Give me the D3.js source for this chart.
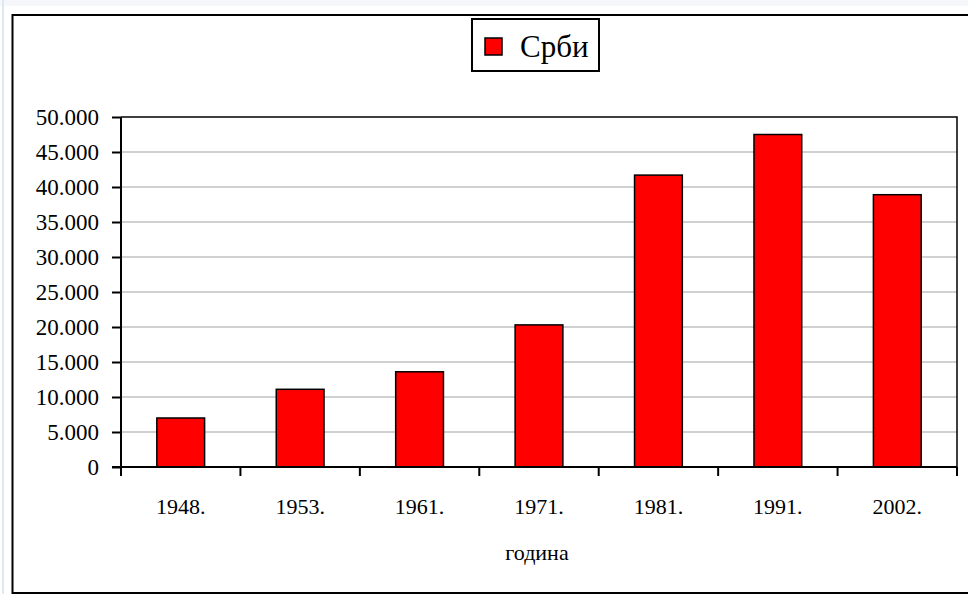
<!DOCTYPE html>
<html>
<head>
<meta charset="utf-8">
<script src="https://cdn.jsdelivr.net/npm/d3@7"></script>
<style>
  body { margin: 0; background: #fff; }
</style>
</head>
<body>
<svg width="968" height="594"></svg>
<script>
// data
const years = ['1948.', '1953.', '1961.', '1971.', '1981.', '1991.', '2002.'];
const srbi = [7000, 11100, 13600, 20300, 41700, 47500, 38900];
const yTicks = [0, 5000, 10000, 15000, 20000, 25000, 30000, 35000, 40000, 45000, 50000];
const seriesName = 'Срби';
const xTitle = 'година';

const FONT = 'Liberation Serif';
const svg = d3.select('svg');
const m = {left: 121, right: 957, top: 117, bottom: 467};

// faint page edge
svg.append('rect').attr('x', 0).attr('y', 0).attr('width', 968).attr('height', 6).attr('fill', '#f5f7fa');
svg.append('rect').attr('x', 2).attr('y', 0).attr('width', 2).attr('height', 594).attr('fill', '#dfe7f1');

// outer chart frame (right side runs off the window)
svg.append('path')
   .attr('d', 'M980,15H12.5V593H980')
   .attr('fill', 'none').attr('stroke', '#000').attr('stroke-width', 2);

const x = d3.scaleBand().domain(years).range([m.left, m.right]).paddingInner(0.6).paddingOuter(0.3);
const xTick = d3.scaleBand().domain(years).range([m.left, m.right]);
const y = d3.scaleLinear().domain([0, 50000]).range([m.bottom, m.top]);

const fmt = d => d3.format(',')(d).replace(/,/g, '.');

// gridlines
svg.append('g').selectAll('line').data(yTicks.filter(d => d > 0 && d < 50000)).join('line')
   .attr('x1', m.left).attr('x2', m.right)
   .attr('y1', d => y(d)).attr('y2', d => y(d))
   .attr('stroke', '#c0c0c0').attr('stroke-width', 1.5);

// plot area border top/right
svg.append('path')
   .attr('d', `M${m.left},${m.top}H${m.right}V${m.bottom}`)
   .attr('fill', 'none').attr('stroke', '#000').attr('stroke-width', 1.5);

// bars
svg.append('g').selectAll('rect').data(srbi).join('rect')
   .attr('x', (d, i) => x(years[i]))
   .attr('y', d => y(d))
   .attr('width', x.bandwidth())
   .attr('height', d => y(0) - y(d))
   .attr('fill', '#ff0000').attr('stroke', '#000').attr('stroke-width', 1.5);

// y axis
const yAxis = svg.append('g').attr('transform', `translate(${m.left},0)`)
   .call(d3.axisLeft(y).tickValues(yTicks).tickFormat(fmt).tickSize(9).tickPadding(13));
yAxis.select('.domain').attr('stroke-width', 2).attr('d', `M0,${m.top}V${m.bottom}`);
yAxis.selectAll('.tick line').attr('stroke-width', 2);
yAxis.selectAll('text').style('font-family', FONT).style('font-size', '23px').attr('fill', '#000');

// x axis with ticks at band boundaries
const xAxis = svg.append('g').attr('transform', `translate(0,${m.bottom})`);
xAxis.append('line').attr('x1', m.left - 9).attr('x2', m.right)
   .attr('stroke', '#000').attr('stroke-width', 2);
const bounds = years.map(d => xTick(d)).concat([m.right]);
xAxis.selectAll('.xt').data(bounds).join('line').attr('class', 'xt')
   .attr('x1', d => d).attr('x2', d => d).attr('y1', 0).attr('y2', 9)
   .attr('stroke', '#000').attr('stroke-width', 2);
xAxis.selectAll('text').data(years).join('text')
   .attr('x', d => xTick(d) + xTick.bandwidth() / 2)
   .attr('y', 47)
   .attr('text-anchor', 'middle')
   .style('font-family', FONT).style('font-size', '22px')
   .text(d => d);

svg.append('text').attr('x', 537).attr('y', 560).attr('text-anchor', 'middle')
   .style('font-family', FONT).style('font-size', '22px').text(xTitle);

// legend
const lg = svg.append('g');
lg.append('rect').attr('x', 472).attr('y', 19).attr('width', 127).attr('height', 52)
   .attr('fill', '#fff').attr('stroke', '#000').attr('stroke-width', 2);
lg.append('rect').attr('x', 485).attr('y', 38).attr('width', 17).attr('height', 17)
   .attr('fill', '#ff0000').attr('stroke', '#000').attr('stroke-width', 1.5);
lg.append('text').attr('x', 520).attr('y', 57)
   .style('font-family', FONT).style('font-size', '31px').text(seriesName);
</script>
</body>
</html>
